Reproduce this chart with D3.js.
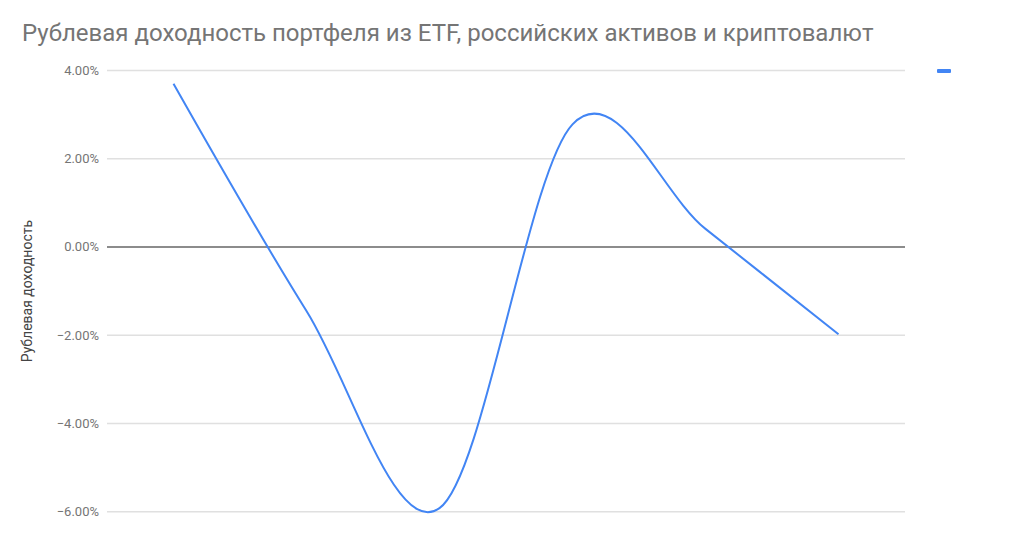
<!DOCTYPE html>
<html>
<head>
<meta charset="utf-8">
<script src="https://cdn.jsdelivr.net/npm/d3@7"></script>
<style>
  body { margin: 0; background: #fff; }
  svg { display: block; font-family: Roboto, "Noto Sans", sans-serif; }
</style>
</head>
<body>
<svg id="chart"></svg>
<script>
// chart data
var periods = ["1", "2", "3", "4", "5", "6"];
var returns = [3.70, -1.45, -5.92, 2.78, 0.41, -1.98];
var yTicks = [4, 2, 0, -2, -4, -6];

var titleText = "Рублевая доходность портфеля из ETF, российских активов и криптовалют";
var yTitle = "Рублевая доходность";

var width = 1024, height = 534;
var svg = d3.select("#chart").attr("width", width).attr("height", height);

// plot area
var plotLeft = 107, plotRight = 905, plotTop = 70.5, plotBottom = 511.7;

var x = d3.scalePoint()
  .domain(periods)
  .range([plotLeft, plotRight])
  .padding(0.5);

var y = d3.scaleLinear()
  .domain([-6, 4])
  .range([plotBottom, plotTop]);

// title
svg.append("text")
  .attr("x", 22)
  .attr("y", 41)
  .attr("fill", "#757575")
  .style("font-size", "24px")
  .text(titleText);

// gridlines
svg.append("g")
  .selectAll("line")
  .data(yTicks)
  .enter().append("line")
  .attr("x1", plotLeft)
  .attr("x2", plotRight)
  .attr("y1", d => y(d))
  .attr("y2", d => y(d))
  .attr("stroke", d => d === 0 ? "#8c8c8c" : "#e0e0e0")
  .attr("stroke-width", d => d === 0 ? 2 : 1.5);

// y labels
svg.append("g")
  .selectAll("text")
  .data(yTicks)
  .enter().append("text")
  .attr("x", 99)
  .attr("y", d => y(d) + 4.5)
  .attr("text-anchor", "end")
  .attr("fill", "#757575")
  .style("font-size", "13px")
  .text(d => d3.format(".2f")(d) + "%");

// y axis title
svg.append("text")
  .attr("transform", "translate(32," + ((plotTop + plotBottom) / 2) + ")rotate(-90)")
  .attr("text-anchor", "middle")
  .attr("fill", "#444")
  .style("font-size", "14px")
  .text(yTitle);

// line
var line = d3.line()
  .x((d, i) => x(periods[i]))
  .y(d => y(d))
  .curve(d3.curveCardinal.tension(0));

svg.append("path")
  .datum(returns)
  .attr("d", line)
  .attr("fill", "none")
  .attr("stroke", "#4285f4")
  .attr("stroke-width", 2);

// legend marker (no label)
svg.append("rect")
  .attr("x", 937)
  .attr("y", 69)
  .attr("width", 14)
  .attr("height", 4)
  .attr("rx", 1)
  .attr("fill", "#4285f4");
</script>
</body>
</html>
